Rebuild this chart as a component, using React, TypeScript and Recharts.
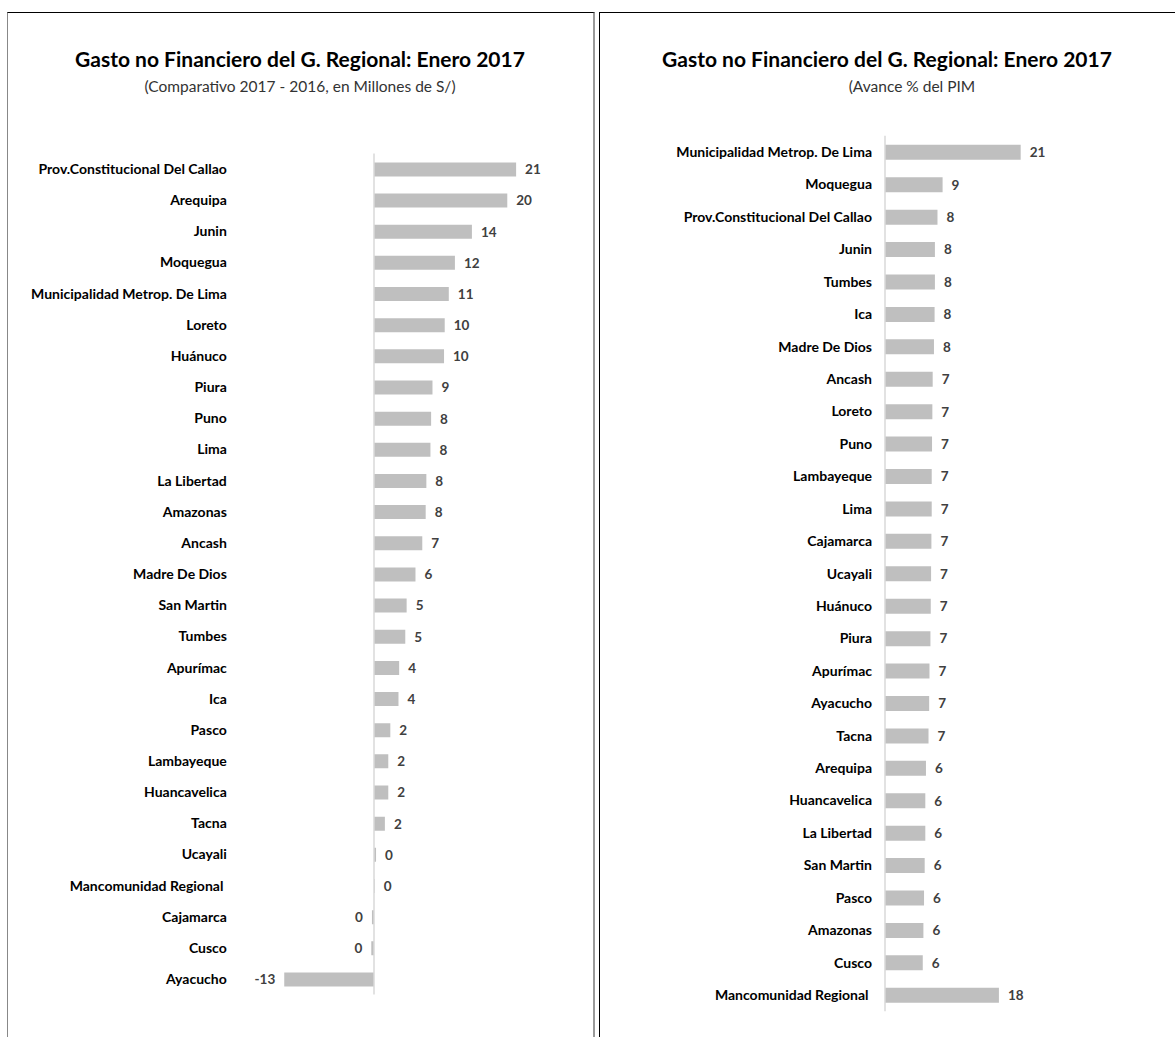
import React from "react";
import { BarChart, Bar, XAxis, YAxis, ReferenceLine, LabelList } from "recharts";

const leftNames = [
  "Prov.Constitucional Del Callao", "Arequipa", "Junin", "Moquegua", "Municipalidad Metrop. De Lima",
  "Loreto", "Huánuco", "Piura", "Puno", "Lima", "La Libertad", "Amazonas", "Ancash", "Madre De Dios",
  "San Martin", "Tumbes", "Apurímac", "Ica", "Pasco", "Lambayeque", "Huancavelica", "Tacna", "Ucayali",
  "Mancomunidad Regional ", "Cajamarca", "Cusco", "Ayacucho",
];
const leftValues = [
  20.9, 19.6, 14.4, 11.9, 11.0, 10.4, 10.3, 8.6, 8.4, 8.3, 7.7, 7.6, 7.1, 6.1,
  4.8, 4.6, 3.7, 3.6, 2.4, 2.1, 2.1, 1.6, 0.3, 0.1, -0.3, -0.4, -13.2,
];

const rightNames = [
  "Municipalidad Metrop. De Lima", "Moquegua", "Prov.Constitucional Del Callao", "Junin", "Tumbes", "Ica",
  "Madre De Dios", "Ancash", "Loreto", "Puno", "Lambayeque", "Lima", "Cajamarca", "Ucayali", "Huánuco",
  "Piura", "Apurímac", "Ayacucho", "Tacna", "Arequipa", "Huancavelica", "La Libertad", "San Martin",
  "Pasco", "Amazonas", "Cusco", "Mancomunidad Regional ",
];
const rightValues = [
  21.2, 9.0, 8.2, 7.8, 7.8, 7.75, 7.65, 7.45, 7.4, 7.35, 7.3, 7.3, 7.25, 7.2, 7.15,
  7.1, 6.95, 6.9, 6.8, 6.4, 6.3, 6.3, 6.2, 6.1, 6.0, 5.9, 17.8,
];

const TITLE = "Gasto no Financiero del G. Regional: Enero 2017";
const leftSubtitle = "(Comparativo 2017 - 2016, en Millones de S/)";
const rightSubtitle = "(Avance % del PIM";

const leftData = leftNames.map((name, i) => ({ name, value: leftValues[i] }));
const rightData = rightNames.map((name, i) => ({ name, value: rightValues[i] }));

const FONT = "Lato, 'Open Sans', sans-serif";

const ValueLabel = (props: any) => {
  const { x, y, width, height, value } = props;
  const x0 = Number(x);
  const w = Number(width);
  const lo = Math.min(x0, x0 + w);
  const hi = Math.max(x0, x0 + w);
  const pos = Number(value) >= 0;
  const r = Math.round(Number(value));
  const txt = String(r === 0 ? 0 : r);
  return (
    <text
      x={pos ? hi + 9 : lo - 9}
      y={Number(y) + Number(height) / 2}
      dy="0.36em"
      textAnchor={pos ? "start" : "end"}
      fontFamily={FONT}
      fontWeight={700}
      fontSize={13.5}
      fill="#404040"
    >
      {txt}
    </text>
  );
};

const CatTick = (props: any) => {
  const { x, y, payload } = props;
  return (
    <text x={x} y={y} dy="0.36em" textAnchor="end" fontFamily={FONT} fontWeight={700} fontSize={14} fill="#000" style={{ whiteSpace: "pre" }}>
      {payload.value}
    </text>
  );
};

const Titles = ({ cx, scx, sub }: { cx: number; scx: number; sub: string }) => (
  <>
    <div style={{ position: "absolute", left: cx - 300, width: 600, top: 44, textAlign: "center", fontFamily: FONT, fontWeight: 700, fontSize: 21, color: "#000", lineHeight: "30px" }}>
      {TITLE}
    </div>
    <div style={{ position: "absolute", left: scx - 300, width: 600, top: 75, textAlign: "center", fontFamily: FONT, fontSize: 15.5, color: "#333", lineHeight: "22px" }}>
      {sub}
    </div>
  </>
);

export default function App() {
  return (
    <div style={{ position: "absolute", left: 0, top: 0, width: 1175, height: 1037, overflow: "hidden", background: "#fff" }}>
      {/* left panel frame */}
      <div style={{ position: "absolute", left: 7, top: 12, width: 588, height: 1040, borderTop: "1.5px solid #000", borderLeft: "1.5px solid #888", borderRight: "2.5px solid #9a9a9a", boxSizing: "border-box" }} />
      {/* right panel frame */}
      <div style={{ position: "absolute", left: 599, top: 12, width: 600, height: 1040, borderTop: "1.5px solid #000", borderLeft: "1.5px solid #000", boxSizing: "border-box" }} />

      <Titles cx={300} scx={300} sub={leftSubtitle} />
      <Titles cx={887} scx={912} sub={rightSubtitle} />

      <div style={{ position: "absolute", left: 0, top: 0 }}>
        <BarChart width={593} height={1037} data={leftData} layout="vertical" margin={{ top: 153.4, bottom: 42.4, left: 0, right: 55.8 }}>
          <XAxis type="number" hide domain={[-14, 24]} allowDataOverflow />
          <YAxis type="category" dataKey="name" width={278.8} interval={0} axisLine={false} tickLine={false} tickSize={0} tickMargin={52} tick={<CatTick />} />
          <Bar dataKey="value" fill="#bfbfbf" barSize={14} isAnimationActive={false}>
            <LabelList dataKey="value" content={<ValueLabel />} />
          </Bar>
          <ReferenceLine x={0} stroke="#d9d9d9" strokeWidth={1.5} />
        </BarChart>
      </div>

      <div style={{ position: "absolute", left: 600, top: 0 }}>
        <BarChart width={575} height={1037} data={rightData} layout="vertical" margin={{ top: 135.8, bottom: 25.8, left: 0, right: 130 }}>
          <XAxis type="number" hide domain={[0, 25]} allowDataOverflow />
          <YAxis type="category" dataKey="name" width={285} interval={0} axisLine={false} tickLine={false} tickSize={0} tickMargin={13} tick={<CatTick />} />
          <Bar dataKey="value" fill="#bfbfbf" barSize={15} isAnimationActive={false}>
            <LabelList dataKey="value" content={<ValueLabel />} />
          </Bar>
          <ReferenceLine x={0} stroke="#d9d9d9" strokeWidth={1.5} />
        </BarChart>
      </div>
    </div>
  );
}
